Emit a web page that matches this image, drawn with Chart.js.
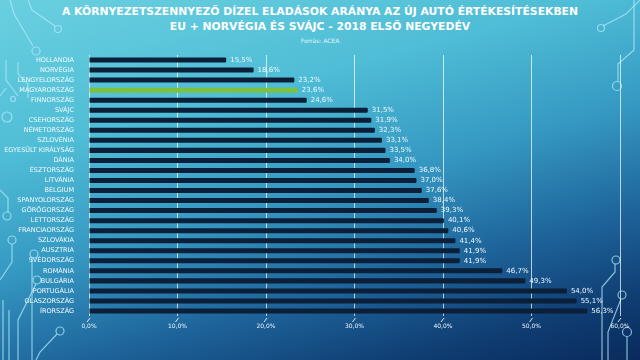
<!DOCTYPE html>
<html>
<head>
<meta charset="utf-8">
<script src="https://cdn.jsdelivr.net/npm/chart.js@4.4.1/dist/chart.umd.min.js"></script>
<style>
  html, body { margin: 0; padding: 0; }
  body {
    width: 640px; height: 360px; overflow: hidden; position: relative;
    background: linear-gradient(165deg, #6ad0e0 0%, #4fbdd6 30%, #3598c2 52%, #1d639a 72%, #0f3d72 88%, #0a2a5c 100%);
    font-family: "DejaVu Sans", sans-serif;
  }
  .deco { position: absolute; left: 0; top: 0; }
  .title {
    position: absolute; left: 0; top: 4px; width: 640px; text-align: center;
    color: #fff; font-weight: bold; font-size: 10.8px; line-height: 15px;
  }
  .source { position: absolute; left: 0; top: 37px; width: 640px; text-align: center; color: #e6f6fa; font-size: 6px; }
  #chart { position: absolute; left: 0; top: 0; }
</style>
</head>
<body>
<!-- circuit board decoration -->
<svg class="deco" width="640" height="360" fill="none" stroke="rgba(175,232,248,0.75)" stroke-width="1.2">
  <path d="M28 0 L32 10 L55 26"/><circle cx="58" cy="29" r="3.5"/>
  <path d="M10 0 L14 14 L33 46"/><circle cx="36" cy="51" r="4"/>
  <path d="M6 60 L6 80 L18 96"/><circle cx="13" cy="99" r="2.5"/>
  <path d="M0 96 L6 88"/><circle cx="7" cy="117" r="5"/>
  <path d="M18 62 L18 74 L28 84 L28 98"/>
  <path d="M0 190 L8 198 L8 212"/><circle cx="7" cy="216" r="4"/>
  <path d="M12 244 L12 262 L0 280"/><circle cx="12" cy="240" r="4"/>
  <path d="M32 258 L32 360"/><circle cx="34" cy="254" r="4"/>
  <path d="M36 284 L18 320 L18 360"/><circle cx="37" cy="280" r="4"/>
  <path d="M3 300 L3 360 M9 310 L9 360"/>
  <path d="M57 334 L40 352 L36 360"/><circle cx="60" cy="331" r="4"/>
  <path d="M640 0 L626 14 L603 26"/><circle cx="601" cy="28" r="3.5"/>
  <path d="M634 0 L634 50 L618 64 L618 81"/><circle cx="617" cy="86" r="4.5"/>
  <path d="M615 264 L615 272 L602 287 L602 360"/><circle cx="616" cy="260" r="4"/>
  <path d="M621 299 L608 332 L608 360"/><circle cx="622" cy="295" r="4"/>
  <path d="M627 337 L627 360"/><circle cx="627" cy="332" r="4.5"/>
</svg>
<div class="title">A KÖRNYEZETSZENNYEZŐ DÍZEL ELADÁSOK ARÁNYA AZ ÚJ AUTÓ ÉRTÉKESÍTÉSEKBEN<br>EU + NORVÉGIA ÉS SVÁJC - 2018 ELSŐ NEGYEDÉV</div>
<div class="source">Forrás: ACEA</div>
<canvas id="chart" width="640" height="360"></canvas>
<script>
/* ---------- data ---------- */
const countries = ['HOLLANDIA', 'NORVÉGIA', 'LENGYELORSZÁG', 'MAGYARORSZÁG', 'FINNORSZÁG', 'SVÁJC',
  'CSEHORSZÁG', 'NÉMETORSZÁG', 'SZLOVÉNIA', 'EGYESÜLT KIRÁLYSÁG', 'DÁNIA', 'ÉSZTORSZÁG', 'LITVÁNIA',
  'BELGIUM', 'SPANYOLORSZÁG', 'GÖRÖGORSZÁG', 'LETTORSZÁG', 'FRANCIAORSZÁG', 'SZLOVÁKIA', 'AUSZTRIA',
  'SVÉDORSZÁG', 'ROMÁNIA', 'BULGÁRIA', 'PORTUGÁLIA', 'OLASZORSZÁG', 'ÍRORSZÁG'];
const dieselShare = [15.5, 18.6, 23.2, 23.6, 24.6, 31.5, 31.9, 32.3, 33.1, 33.5, 34.0, 36.8, 37.0,
  37.6, 38.4, 39.3, 40.1, 40.6, 41.4, 41.9, 41.9, 46.7, 49.3, 54.0, 55.1, 56.3];
const highlight = 'MAGYARORSZÁG';
const xTicks = [0, 10, 20, 30, 40, 50, 60];

const fmt = v => v.toFixed(1).replace('.', ',') + '%';

// value labels at the end of each bar
const valueLabels = {
  id: 'valueLabels',
  afterDatasetsDraw(chart) {
    const ctx = chart.ctx;
    const meta = chart.getDatasetMeta(0);
    ctx.save();
    ctx.font = '7px "DejaVu Sans"';
    ctx.fillStyle = '#eef8fb';
    ctx.textBaseline = 'middle';
    meta.data.forEach((bar, i) => {
      ctx.fillText(fmt(dieselShare[i]), bar.x + 4, bar.y);
    });
    ctx.restore();
  }
};

// little slanted tick marks under the grid lines
const slantTicks = {
  id: 'slantTicks',
  afterDraw(chart) {
    const ctx = chart.ctx;
    const sx = chart.scales.x;
    const y0 = chart.chartArea.bottom;
    ctx.save();
    ctx.strokeStyle = 'rgba(255,255,255,0.85)';
    ctx.lineWidth = 1;
    xTicks.forEach(v => {
      const x = sx.getPixelForValue(v);
      ctx.beginPath();
      ctx.moveTo(x + 1, y0 + 2);
      ctx.lineTo(x - 2, y0 + 6);
      ctx.stroke();
    });
    ctx.restore();
  }
};

new Chart(document.getElementById('chart'), {
  type: 'bar',
  data: {
    labels: countries,
    datasets: [{
      data: dieselShare,
      backgroundColor: countries.map(c => c === highlight ? '#7cc142' : '#0b1f38'),
      barPercentage: 0.5,
      categoryPercentage: 1,
      borderRadius: 1
    }]
  },
  options: {
    indexAxis: 'y',
    responsive: false,
    animation: false,
    devicePixelRatio: 1,
    layout: { padding: { top: 55, right: 20, left: 0, bottom: 0 } },
    plugins: { legend: { display: false }, tooltip: { enabled: false } },
    scales: {
      x: {
        min: 0, max: 60,
        afterBuildTicks: s => { s.ticks = xTicks.map(v => ({ value: v })); },
        afterFit: s => { s.height = 44; },
        grid: { color: 'rgba(255,255,255,0.7)', lineWidth: 1, drawTicks: false },
        border: { display: false },
        ticks: { color: '#e8f6fa', font: { size: 6, family: 'DejaVu Sans' }, padding: 7, callback: v => fmt(v) }
      },
      y: {
        afterFit: s => { s.width = 89; },
        grid: { display: false },
        border: { display: false },
        ticks: { color: '#f2fafc', font: { size: 6.5, family: 'DejaVu Sans' }, padding: 7, autoSkip: false }
      }
    }
  },
  plugins: [valueLabels, slantTicks]
});
</script>
</body>
</html>
